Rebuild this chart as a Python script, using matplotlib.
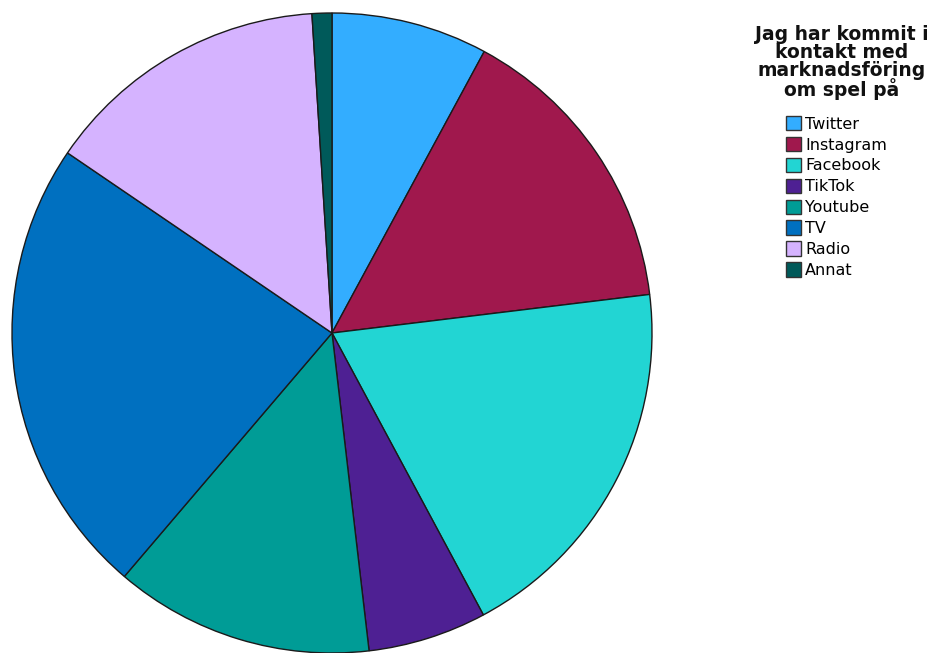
import matplotlib.pyplot as plt
from matplotlib.patches import Patch

labels = ['Twitter', 'Instagram', 'Facebook', 'TikTok', 'Youtube', 'TV', 'Radio', 'Annat']
values = [7.9, 15.2, 19.1, 6.0, 13.1, 23.3, 14.5, 1.0]
colors = ['#33adff', '#a0184d', '#22d5d3', '#4e2093', '#009c96', '#0070c0', '#d5b3ff', '#005a5a']
title = 'Jag har kommit i\nkontakt med\nmarknadsföring\nom spel på'

W, H = 933, 653
fig = plt.figure(figsize=(W / 100, H / 100), dpi=100)

# pie centred at (332, 333) px with radius 320 px
cx, cy, r = 332, 333, 320
ax = fig.add_axes([(cx - r) / W, (H - cy - r) / H, 2 * r / W, 2 * r / H])
ax.pie(values, colors=colors, startangle=90, counterclock=False,
       wedgeprops=dict(edgecolor='#1a1a1a', linewidth=1.0))
ax.set_xlim(-1, 1)
ax.set_ylim(-1, 1)
ax.set_aspect('equal')
ax.axis('off')

fig.text(842 / W, 1 - 25 / H, title, ha='center', va='top', fontsize=13.5,
         fontweight='bold', linespacing=0.92, color='#111111')

handles = [Patch(facecolor=c, edgecolor='#333333', linewidth=1.0) for c in colors]
fig.legend(handles, labels, loc='upper left', bbox_to_anchor=(786 / W, 1 - 116 / H),
           frameon=False, fontsize=11.5, handlelength=0.95, handleheight=1.0,
           handletextpad=0.25, labelspacing=0.33, borderpad=0, borderaxespad=0)

fig.savefig('out.png', dpi=100)
